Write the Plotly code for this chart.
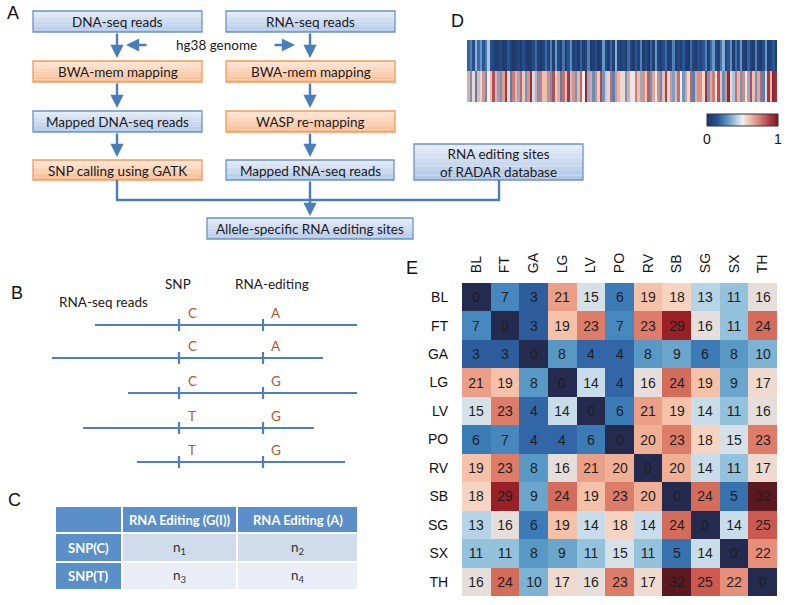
import plotly.graph_objects as go

W, H = 787, 605

# ---------------- Panel E data ----------------
tissues = ["BL", "FT", "GA", "LG", "LV", "PO", "RV", "SB", "SG", "SX", "TH"]
row_BL = [0, 7, 3, 21, 15, 6, 19, 18, 13, 11, 16]
row_FT = [7, 0, 3, 19, 23, 7, 23, 29, 16, 11, 24]
row_GA = [3, 3, 0, 8, 4, 4, 8, 9, 6, 8, 10]
row_LG = [21, 19, 8, 0, 14, 4, 16, 24, 19, 9, 17]
row_LV = [15, 23, 4, 14, 0, 6, 21, 19, 14, 11, 16]
row_PO = [6, 7, 4, 4, 6, 0, 20, 23, 18, 15, 23]
row_RV = [19, 23, 8, 16, 21, 20, 0, 20, 14, 11, 17]
row_SB = [18, 29, 9, 24, 19, 23, 20, 0, 24, 5, 32]
row_SG = [13, 16, 6, 19, 14, 18, 14, 24, 0, 14, 25]
row_SX = [11, 11, 8, 9, 11, 15, 11, 5, 14, 0, 22]
row_TH = [16, 24, 10, 17, 16, 23, 17, 32, 25, 22, 0]

# ---------------- Panel D data (estimated) ----------------
strip_top = [0.18, 0.25, 0.12, 0.35, 0.2, 0.3, 0.15, 0.22, 0.4, 0.12, 0.08, 0.05, 0.06, 0.1, 0.04, 0.05,
             0.15, 0.06, 0.03, 0.05, 0.08, 0.04, 0.12, 0.06, 0.03, 0.05, 0.1, 0.2, 0.06, 0.04, 0.08,
             0.2, 0.08, 0.25, 0.05, 0.3, 0.1, 0.06, 0.22, 0.04, 0.15, 0.28, 0.06, 0.1, 0.03, 0.18, 0.05,
             0.08, 0.25, 0.04, 0.06, 0.12, 0.03, 0.05, 0.3, 0.1, 0.04, 0.2, 0.06, 0.35, 0.08, 0.05,
             0.1, 0.05, 0.2, 0.08, 0.04, 0.15, 0.06, 0.25, 0.05, 0.1, 0.03, 0.18, 0.06, 0.3, 0.08, 0.04,
             0.12, 0.2, 0.05, 0.07, 0.25, 0.04, 0.1, 0.06, 0.15, 0.05, 0.03, 0.2, 0.08, 0.05, 0.12,
             0.08, 0.15, 0.25, 0.05, 0.2, 0.3, 0.1, 0.06, 0.22, 0.35, 0.08, 0.15, 0.28, 0.05, 0.2, 0.1,
             0.3, 0.06, 0.04, 0.18, 0.08, 0.05, 0.25, 0.06, 0.04, 0.12, 0.3, 0.05, 0.08, 0.15, 0.05]
strip_bottom = [0.65, 0.3, 0.55, 0.25, 0.62, 0.45, 0.7, 0.28, 0.5, 0.6, 0.85, 0.4, 0.72, 0.3, 0.68, 0.9,
                0.55, 0.25, 0.75, 0.62, 0.35, 0.8, 0.58, 0.3, 0.7, 0.92, 0.45, 0.66, 0.3, 0.75, 0.6,
                0.6, 0.72, 0.3, 0.85, 0.55, 0.65, 0.25, 0.78, 0.6, 0.9, 0.4, 0.7, 0.3, 0.62, 0.8, 0.5,
                0.95, 0.35, 0.66, 0.28, 0.72, 0.58, 0.85, 0.3, 0.6, 0.45, 0.78, 0.25, 0.7, 0.62, 0.55,
                0.55, 0.3, 0.65, 0.48, 0.52, 0.75, 0.6, 0.35, 0.7, 0.58, 0.82, 0.3, 0.66, 0.5, 0.72, 0.28,
                0.6, 0.88, 0.45, 0.7, 0.32, 0.62, 0.78, 0.5, 0.3, 0.68, 0.55, 0.8, 0.25, 0.65, 0.7,
                0.7, 0.55, 0.92, 0.3, 0.65, 0.75, 0.5, 0.85, 0.6, 0.28, 0.7, 0.95, 0.55, 0.4, 0.78, 0.62,
                0.3, 0.72, 0.5, 0.35, 0.85, 0.6, 0.3, 0.66, 0.8, 0.25, 0.55, 0.9, 0.62, 0.95, 0.92]

# ---------------- Panel B data ----------------
read_starts = [95, 52, 128, 83, 137]
read_ends = [357, 323, 357, 314, 345]
snp_alleles = ["C", "C", "C", "T", "T"]
edit_alleles = ["A", "A", "G", "G", "G"]

# ---------------- Panel C data ----------------
table_header = ["", "RNA Editing (G(I))", "RNA Editing (A)"]
table_rows = [["SNP(C)", "n<sub>1</sub>", "n<sub>2</sub>"],
              ["SNP(T)", "n<sub>3</sub>", "n<sub>4</sub>"]]

# ---------------- colours ----------------
E_scale_pts = [(0, '#252b4f'), (3, '#2d5d9c'), (4, '#3266a6'), (6, '#3b7bb6'), (7, '#4688bd'),
               (8, '#5898c4'), (9, '#6aa5cc'), (10, '#7db2d5'), (11, '#94c2dc'), (13, '#b7d4e6'),
               (14, '#c8dcea'), (15, '#d6e0e7'), (16, '#e6dedb'), (17, '#efdad0'), (18, '#f7d3c2'),
               (19, '#f5c2a9'), (20, '#f0b096'), (21, '#eb9f86'), (22, '#e68e78'), (23, '#dd7c68'),
               (24, '#d46c5c'), (25, '#cb5950'), (29, '#9a2027'), (32, '#5b191f')]
E_scale = [[v / 32, c] for v, c in E_scale_pts]

D_scale = [[0, '#1c3262'], [0.15, '#2a5594'], [0.3, '#6598c6'], [0.42, '#b6d1e5'], [0.5, '#f2eeed'],
           [0.6, '#ecc0b0'], [0.72, '#d98a7e'], [0.85, '#bb4a4f'], [1, '#7a1526']]

LINE = '#4a7ebb'
FONT = "Lato"
HFONT = "Liberation Sans"

fig = go.Figure()

# Panel E heatmap
matrix = [row_BL, row_FT, row_GA, row_LG, row_LV, row_PO, row_RV, row_SB, row_SG, row_SX, row_TH]
fig.add_trace(go.Heatmap(
    z=matrix, x=tissues, y=tissues, colorscale=E_scale, zmin=0, zmax=32,
    showscale=False, texttemplate='%{z}',
    textfont=dict(size=14, color='#1e1e1e', family=HFONT),
    xaxis='x', yaxis='y', hoverinfo='skip'))

# Panel D strip
fig.add_trace(go.Heatmap(
    z=[strip_top, strip_bottom], colorscale=D_scale, zmin=0, zmax=1,
    xaxis='x2', yaxis='y2', hoverinfo='skip',
    colorbar=dict(orientation='h', x=742.5 / W, xanchor='center', y=1 - 114 / H, yanchor='top',
                  len=71 / W, lenmode='fraction', thickness=12, thicknessmode='pixels',
                  xpad=0, ypad=0, outlinewidth=1, outlinecolor='#333',
                  tickvals=[0, 1], ticktext=['0', '1'], ticks='',
                  tickfont=dict(size=14, family=HFONT, color='#111'))))

# Panel B reads as line traces on an overlay pixel axis
read_y = [325, 358, 393, 428, 462]
for s, e, yy in zip(read_starts, read_ends, read_y):
    fig.add_trace(go.Scatter(x=[s, e], y=[yy, yy], mode='lines', line=dict(color='#4f7fc0', width=2.2),
                             xaxis='x3', yaxis='y3', hoverinfo='skip', showlegend=False))

shapes = []
annotations = []


def hex2rgb(h):
    h = h.lstrip('#')
    return tuple(int(h[i:i + 2], 16) for i in (0, 2, 4))


def mix(c1, c2, t):
    a, b = hex2rgb(c1), hex2rgb(c2)
    return 'rgb(%d,%d,%d)' % tuple(round(a[i] + (b[i] - a[i]) * t) for i in range(3))


def text(x, y, s, size=13.5, color='#1a1a1a', family=FONT, xanchor='center', yanchor='middle', **kw):
    annotations.append(dict(x=x, y=y, xref='x3', yref='y3', text=s, showarrow=False,
                            xanchor=xanchor, yanchor=yanchor,
                            font=dict(size=size, color=color, family=family), **kw))


def gbox(x0, y0, x1, y1, label, top, bottom, border):
    n = 8
    for i in range(n):
        ya = y0 + (y1 - y0) * i / n
        yb = y0 + (y1 - y0) * (i + 1) / n
        shapes.append(dict(type='rect', xref='x3', yref='y3', x0=x0, x1=x1, y0=ya, y1=yb,
                           fillcolor=mix(top, bottom, i / (n - 1)), line=dict(width=0), layer='below'))
    shapes.append(dict(type='rect', xref='x3', yref='y3', x0=x0, x1=x1, y0=y0, y1=y1,
                       fillcolor='rgba(0,0,0,0)', line=dict(color=border, width=1.3)))
    text((x0 + x1) / 2, (y0 + y1) / 2 + 0.5, label)


def arrow(x0, y0, x1, y1):
    annotations.append(dict(x=x1, y=y1, ax=x0, ay=y0, xref='x3', yref='y3', axref='x3', ayref='y3',
                            text='', showarrow=True, arrowhead=2, arrowsize=1.1, arrowwidth=2.4,
                            arrowcolor=LINE, standoff=0))


def line(x0, y0, x1, y1, color=LINE, width=2.4):
    shapes.append(dict(type='line', xref='x3', yref='y3', x0=x0, y0=y0, x1=x1, y1=y1,
                       line=dict(color=color, width=width)))


BT, BB, BBORD = '#e3ebf7', '#b4c9e7', '#6b93c7'
OT, OB, OBORD = '#fde6d6', '#f8bd93', '#f29b58'

# Panel A flowchart
gbox(33, 11, 202, 32, "DNA-seq reads", BT, BB, BBORD)
gbox(226, 11, 395, 32, "RNA-seq reads", BT, BB, BBORD)
gbox(33, 61, 202, 82, "BWA-mem mapping", OT, OB, OBORD)
gbox(226, 61, 395, 82, "BWA-mem mapping", OT, OB, OBORD)
gbox(33, 111, 202, 132, "Mapped DNA-seq reads", BT, BB, BBORD)
gbox(226, 111, 395, 132, "WASP re-mapping", OT, OB, OBORD)
gbox(33, 160, 202, 180, "SNP calling using GATK", OT, OB, OBORD)
gbox(226, 160, 394, 180, "Mapped RNA-seq reads", BT, BB, BBORD)
gbox(414, 144, 583, 180, "RNA editing sites<br>of RADAR database", BT, BB, BBORD)
gbox(207, 218, 413, 239, "Allele-specific RNA editing sites", BT, BB, BBORD)

text(216, 45, "hg38 genome")
arrow(117, 32, 117, 58)
arrow(310, 32, 310, 58)
arrow(148, 45, 126, 45)
arrow(273, 45, 295, 45)
arrow(117, 82, 117, 108)
arrow(310, 82, 310, 108)
arrow(117, 132, 117, 157)
arrow(310, 132, 310, 157)
line(117, 180, 117, 200)
line(116, 200, 500, 200)
line(499, 180, 499, 201)
arrow(310, 180, 310, 216)

# Panel B
text(103, 302, "RNA-seq reads")
text(178, 284, "SNP")
text(272, 284, "RNA-editing")
for yy, sa, ea in zip(read_y, snp_alleles, edit_alleles):
    line(179, yy - 6, 179, yy + 6, color='#4f7fc0', width=2.2)
    line(263, yy - 6, 263, yy + 6, color='#4f7fc0', width=2.2)
    text(192, yy - 12, sa, size=13.5, color='#b2582c')
    text(276, yy - 12, ea, size=13.5, color='#b2582c')

# Panel C table
col_edges = [55, 122, 237, 358]
row_edges = [506, 533, 562, 590]
HEAD = '#5b8fc9'
body_fill = ['#d0dcec', '#e9eef6']
for ci in range(3):
    shapes.append(dict(type='rect', xref='x3', yref='y3', x0=col_edges[ci], x1=col_edges[ci + 1],
                       y0=row_edges[0], y1=row_edges[1], fillcolor=HEAD, line=dict(color='white', width=2)))
    if table_header[ci]:
        text((col_edges[ci] + col_edges[ci + 1]) / 2, (row_edges[0] + row_edges[1]) / 2,
             '<b>' + table_header[ci] + '</b>', size=13, color='white')
for ri, row in enumerate(table_rows):
    for ci in range(3):
        fill = HEAD if ci == 0 else body_fill[ri]
        shapes.append(dict(type='rect', xref='x3', yref='y3', x0=col_edges[ci], x1=col_edges[ci + 1],
                           y0=row_edges[ri + 1], y1=row_edges[ri + 2], fillcolor=fill,
                           line=dict(color='white', width=2)))
        cx = (col_edges[ci] + col_edges[ci + 1]) / 2
        cy = (row_edges[ri + 1] + row_edges[ri + 2]) / 2
        if ci == 0:
            text(cx, cy, '<b>' + row[ci] + '</b>', size=13, color='white')
        else:
            text(cx, cy, row[ci], size=13.5, color='#333')

# Panel labels
for lab, lx, ly in [("A", 13, 13), ("B", 17, 293), ("C", 14, 500), ("D", 457, 21), ("E", 412, 268)]:
    text(lx, ly, lab, size=18, color='#111', family=HFONT)

fig.update_layout(
    width=W, height=H, margin=dict(l=0, r=0, t=0, b=0, autoexpand=False),
    paper_bgcolor='white', plot_bgcolor='rgba(0,0,0,0)', showlegend=False,
    xaxis=dict(domain=[462 / W, 777 / W], side='top', tickangle=-90, ticks='outside', ticklen=6,
               tickcolor='rgba(0,0,0,0)', showgrid=False, zeroline=False, showline=False,
               tickfont=dict(size=14, family=HFONT, color='#111'), anchor='y'),
    yaxis=dict(domain=[1 - 596 / H, 1 - 283 / H], autorange='reversed', ticks='outside', ticklen=10,
               tickcolor='rgba(0,0,0,0)', showgrid=False, zeroline=False, showline=False,
               tickfont=dict(size=14, family=HFONT, color='#111'), anchor='x'),
    xaxis2=dict(domain=[467 / W, 777 / W], visible=False, anchor='y2'),
    yaxis2=dict(domain=[1 - 102 / H, 1 - 40 / H], visible=False, autorange='reversed', anchor='x2'),
    xaxis3=dict(domain=[0, 1], range=[0, W], visible=False, anchor='y3', fixedrange=True),
    yaxis3=dict(domain=[0, 1], range=[H, 0], visible=False, anchor='x3', fixedrange=True),
    shapes=shapes, annotations=annotations,
)

fig.write_html("out.html", config=dict(displayModeBar=False),
               post_script="document.body.style.margin='0';document.body.style.padding='0';")
